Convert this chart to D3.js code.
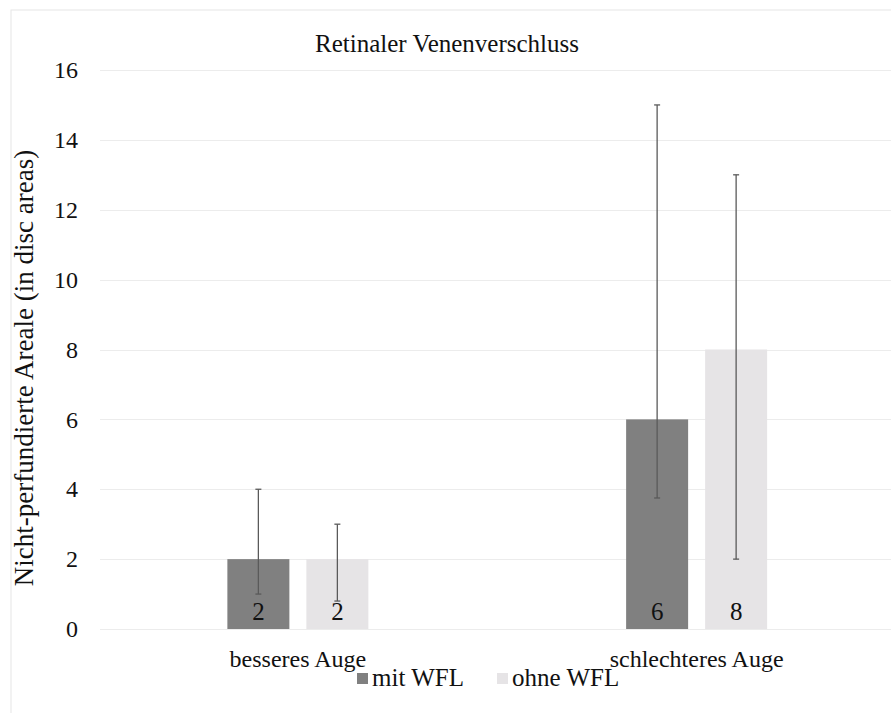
<!DOCTYPE html>
<html>
<head>
<meta charset="utf-8">
<script src="https://cdn.jsdelivr.net/npm/d3@7"></script>
</head>
<body style="margin:0">
<svg id="chart" width="891" height="713"></svg>
<script>
// Data
const categories = ["besseres Auge", "schlechteres Auge"];
const seriesNames = ["mit WFL", "ohne WFL"];
const seriesColors = ["#808080", "#e6e4e6"];
const values = {
  "mit WFL":  [2, 6],
  "ohne WFL": [2, 8]
};
const errLow = {
  "mit WFL":  [1, 3.75],
  "ohne WFL": [0.8, 2]
};
const errHigh = {
  "mit WFL":  [4, 15],
  "ohne WFL": [3, 13]
};
const yTicks = [0, 2, 4, 6, 8, 10, 12, 14, 16];

const FONT = "'Liberation Serif', serif";
const TEXT_COLOR = "#111";

const svg = d3.select("#chart");

// Frame
svg.append("rect")
  .attr("x", 11).attr("y", 10)
  .attr("width", 900).attr("height", 720)
  .attr("fill", "#fff")
  .attr("stroke", "#e6e6e6").attr("stroke-width", 1);

const plot = { left: 98.5, right: 896, top: 70, bottom: 629 };

const y = d3.scaleLinear().domain([0, 16]).range([plot.bottom, plot.top]);
const x0 = d3.scaleBand().domain(categories).range([plot.left, plot.right]).padding(0);
const groupWidth = 141;
const x1 = d3.scaleBand().domain(seriesNames).range([0, groupWidth])
  .paddingInner(17 / 79).paddingOuter(0);

// Gridlines
svg.append("g").selectAll("line").data(yTicks).join("line")
  .attr("x1", 100).attr("x2", 891)
  .attr("y1", d => Math.round(y(d)) + 0.5).attr("y2", d => Math.round(y(d)) + 0.5)
  .attr("stroke", "#ececec").attr("stroke-width", 1);

// Y axis labels
svg.append("g").selectAll("text").data(yTicks).join("text")
  .attr("x", 78)
  .attr("y", d => y(d))
  .attr("dy", "0.34em")
  .attr("text-anchor", "end")
  .attr("font-size", 24)
  .style("font-family", FONT)
  .attr("fill", TEXT_COLOR)
  .text(d => d);

// Y axis title
svg.append("text")
  .attr("transform", "translate(33,368) rotate(-90)")
  .attr("text-anchor", "middle")
  .attr("font-size", 27)
  .style("font-family", FONT)
  .attr("fill", TEXT_COLOR)
  .text("Nicht-perfundierte Areale (in disc areas)");

// Title
svg.append("text")
  .attr("x", 447).attr("y", 52)
  .attr("text-anchor", "middle")
  .attr("font-size", 25)
  .style("font-family", FONT)
  .attr("fill", TEXT_COLOR)
  .text("Retinaler Venenverschluss");

// Bars
const groups = svg.append("g").selectAll("g").data(categories).join("g")
  .attr("transform", d => `translate(${x0(d) + x0.bandwidth() / 2 - groupWidth / 2},0)`);

seriesNames.forEach((s, si) => {
  groups.append("rect")
    .attr("x", x1(s))
    .attr("width", x1.bandwidth())
    .attr("y", (d, i) => y(values[s][i]))
    .attr("height", (d, i) => y(0) - y(values[s][i]))
    .attr("fill", seriesColors[si]);
});

// Error bars
seriesNames.forEach(s => {
  const cx = x1(s) + x1.bandwidth() / 2;
  groups.append("line")
    .attr("x1", cx).attr("x2", cx)
    .attr("y1", (d, i) => y(errLow[s][i]))
    .attr("y2", (d, i) => y(errHigh[s][i]))
    .attr("stroke", "#5a5a5a").attr("stroke-width", 1.3);
  ["low", "high"].forEach(k => {
    groups.append("line")
      .attr("x1", cx - 3).attr("x2", cx + 3)
      .attr("y1", (d, i) => y((k === "low" ? errLow : errHigh)[s][i]))
      .attr("y2", (d, i) => y((k === "low" ? errLow : errHigh)[s][i]))
      .attr("stroke", "#5a5a5a").attr("stroke-width", 1.3);
  });
});

// Value labels
seriesNames.forEach(s => {
  groups.append("text")
    .attr("x", x1(s) + x1.bandwidth() / 2)
    .attr("y", plot.bottom - 9)
    .attr("text-anchor", "middle")
    .attr("font-size", 25)
    .style("font-family", FONT)
    .attr("fill", TEXT_COLOR)
    .text((d, i) => values[s][i]);
});

// Category labels
svg.append("g").selectAll("text").data(categories).join("text")
  .attr("x", d => x0(d) + x0.bandwidth() / 2)
  .attr("y", 667)
  .attr("text-anchor", "middle")
  .attr("font-size", 24)
  .style("font-family", FONT)
  .attr("fill", TEXT_COLOR)
  .text(d => d);

// Legend
const legendX = [357, 497];
const legend = svg.append("g").selectAll("g").data(seriesNames).join("g")
  .attr("transform", (d, i) => `translate(${legendX[i]},673)`);
legend.append("rect")
  .attr("width", 11).attr("height", 11)
  .attr("fill", (d, i) => seriesColors[i]);
legend.append("text")
  .attr("x", 15).attr("y", 13)
  .attr("font-size", 25)
  .style("font-family", FONT)
  .attr("fill", TEXT_COLOR)
  .text(d => d);
</script>
</body>
</html>
